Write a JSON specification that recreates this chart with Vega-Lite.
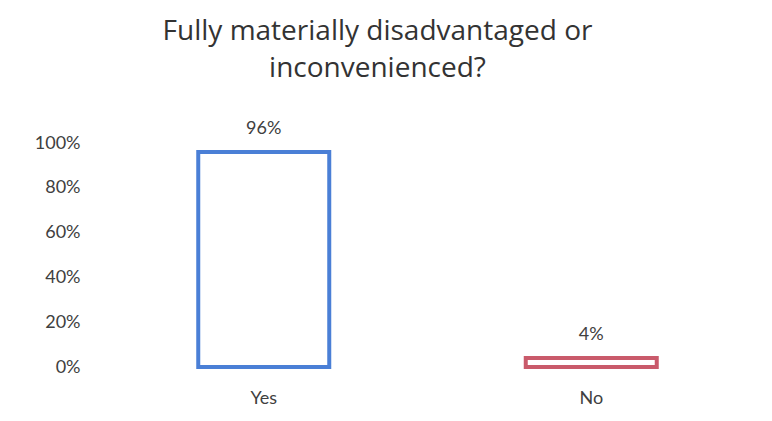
{
  "$schema": "https://vega.github.io/schema/vega-lite/v6.json",
  "width": 655,
  "height": 224,
  "autosize": {"type": "none"},
  "padding": {"left": 100, "top": 143, "right": 17, "bottom": 54},
  "background": "white",
  "title": {
    "text": ["Fully materially disadvantaged or", "inconvenienced?"],
    "font": "Open Sans",
    "fontSize": 28,
    "fontWeight": "normal",
    "color": "#333333",
    "lineHeight": 37,
    "offset": 37,
    "anchor": "middle",
    "dx": -50
  },
  "data": {
    "values": [
      {"answer": "Yes", "share": 0.96, "label": "96%"},
      {"answer": "No", "share": 0.04, "label": "4%"}
    ]
  },
  "encoding": {
    "x": {
      "field": "answer",
      "type": "nominal",
      "sort": ["Yes", "No"],
      "scale": {"paddingInner": 0.6, "paddingOuter": 0.3},
      "axis": {
        "title": null,
        "labelAngle": 0,
        "domain": false,
        "ticks": false,
        "labelPadding": 22,
        "labelFont": "Lato",
        "labelFontSize": 18,
        "labelColor": "#404040"
      }
    },
    "y": {
      "field": "share",
      "type": "quantitative",
      "scale": {"domain": [0, 1]},
      "axis": {
        "title": null,
        "values": [0, 0.2, 0.4, 0.6, 0.8, 1],
        "format": ".0%",
        "domain": false,
        "ticks": false,
        "grid": false,
        "labelPadding": 20,
        "labelFont": "Lato",
        "labelFontSize": 18,
        "labelColor": "#404040"
      }
    }
  },
  "layer": [
    {
      "mark": {"type": "bar", "fill": "white", "strokeWidth": 4},
      "encoding": {
        "stroke": {
          "field": "answer",
          "type": "nominal",
          "scale": {"domain": ["Yes", "No"], "range": ["#4a7fd6", "#c95a6b"]},
          "legend": null
        }
      }
    },
    {
      "mark": {"type": "text", "baseline": "bottom", "dy": -14, "font": "Lato", "fontSize": 18, "color": "#404040"},
      "encoding": {"text": {"field": "label"}}
    }
  ],
  "config": {"view": {"stroke": null}}
}
